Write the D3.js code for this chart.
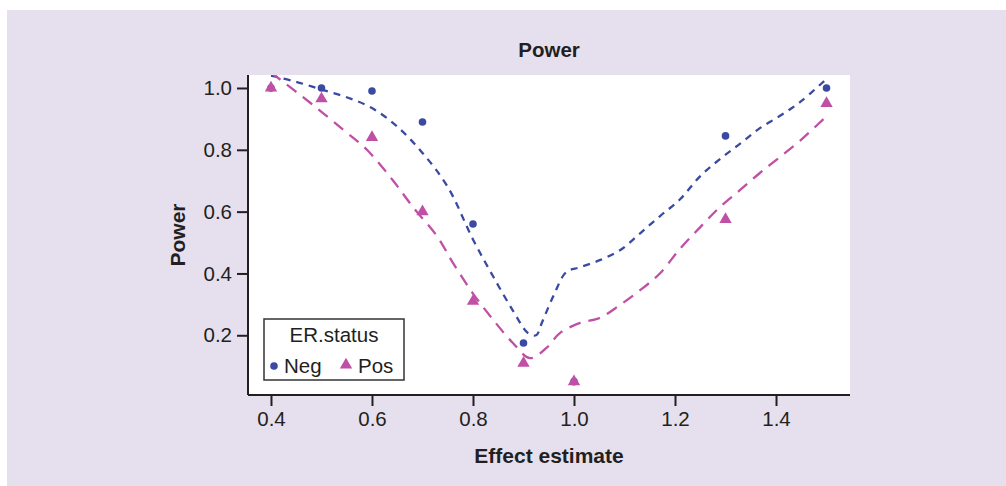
<!DOCTYPE html>
<html><head><meta charset="utf-8">
<script src="https://cdn.jsdelivr.net/npm/d3@7"></script>
<style>html,body{margin:0;padding:0;background:#fff}svg{display:block}text{font-family:"Liberation Sans",Arial,Helvetica,sans-serif;fill:#231f20}</style>
</head><body><svg id="c" width="1006" height="486"></svg>
<script>
// observed points
const effects = [0.4, 0.5, 0.6, 0.7, 0.8, 0.9, 1.0, 1.3, 1.5];
const negPower = [1.0, 1.0, 0.99, 0.89, 0.56, 0.175, 0.05, 0.845, 1.0];
const posPower = [1.0, 0.965, 0.84, 0.60, 0.31, 0.11, 0.05, 0.575, 0.95];
// smoothed curves
const negCurveX = [0.40,0.45,0.50,0.55,0.60,0.65,0.70,0.75,0.80,0.84,0.879,0.909,0.925,0.937,0.96,0.985,1.012,1.051,1.091,1.131,1.170,1.210,1.250,1.289,1.329,1.368,1.408,1.448,1.497];
const negCurveY = [1.04,1.02,0.995,0.97,0.935,0.875,0.79,0.68,0.51,0.39,0.28,0.207,0.20,0.243,0.33,0.405,0.42,0.443,0.475,0.53,0.585,0.64,0.715,0.77,0.82,0.87,0.91,0.955,1.025];
const posCurveX = [0.40,0.477,0.543,0.59,0.642,0.681,0.729,0.76,0.80,0.84,0.879,0.913,0.946,0.972,1.012,1.051,1.091,1.131,1.170,1.210,1.250,1.289,1.329,1.368,1.408,1.448,1.497];
const posCurveY = [1.05,0.953,0.865,0.80,0.70,0.615,0.52,0.435,0.335,0.25,0.175,0.126,0.16,0.207,0.24,0.256,0.298,0.346,0.40,0.48,0.55,0.615,0.67,0.725,0.777,0.83,0.904];
const xTicks = [0.4, 0.6, 0.8, 1.0, 1.2, 1.4];
const yTicks = [0.2, 0.4, 0.6, 0.8, 1.0];
const groups = ["Neg", "Pos"];
const colors = {Neg: "#3a4aa2", Pos: "#c04fa6"};

const svg = d3.select("#c");
svg.append("rect").attr("x", 7).attr("y", 10).attr("width", 999).attr("height", 476).attr("fill", "#e6e0ee");

const L = 248, R = 850, T = 75, B = 395;
const x = d3.scaleLinear().domain([0.3545, 1.5465]).range([L, R]);
const y = d3.scaleLinear().domain([0.0068, 1.042]).range([B, T]);

svg.append("rect").attr("x", L).attr("y", T).attr("width", R - L).attr("height", B - T).attr("fill", "#fff");
svg.append("clipPath").attr("id", "clip").append("rect").attr("x", L).attr("y", T).attr("width", R - L).attr("height", B - T);

const fs = "20.5px";
// axes
const xAxis = svg.append("g").attr("transform", `translate(0,${B})`)
  .call(d3.axisBottom(x).tickValues(xTicks).tickFormat(d3.format(".1f")).tickSize(11).tickSizeOuter(0).tickPadding(5));
const yAxis = svg.append("g").attr("transform", `translate(${L},0)`)
  .call(d3.axisLeft(y).tickValues(yTicks).tickFormat(d3.format(".1f")).tickSize(11).tickSizeOuter(0).tickPadding(5));
[xAxis, yAxis].forEach(a => {
  a.select(".domain").attr("stroke", "#231f20").attr("stroke-width", 2);
  a.selectAll(".tick line").attr("stroke", "#231f20").attr("stroke-width", 2);
  a.selectAll(".tick text").style("font-size", fs).attr("fill", "#231f20").style("font-family", '"Liberation Sans",Arial,sans-serif');
});
xAxis.select(".domain").attr("d", `M${L},0H${R}`);
yAxis.select(".domain").attr("d", `M0,${T}V${B}`);

// titles
svg.append("text").attr("x", (L + R) / 2).attr("y", 57).attr("text-anchor", "middle")
  .style("font-size", "20.5px").style("font-weight", "bold").text("Power");
svg.append("text").attr("x", (L + R) / 2).attr("y", 463).attr("text-anchor", "middle")
  .style("font-size", "21px").style("font-weight", "bold").text("Effect estimate");
svg.append("text").attr("transform", `translate(185,${(T + B) / 2}) rotate(-90)`).attr("text-anchor", "middle")
  .style("font-size", "21px").style("font-weight", "bold").text("Power");

// curves
const line = d3.line().x(d => x(d[0])).y(d => y(d[1])).curve(d3.curveCatmullRom);
const plot = svg.append("g").attr("clip-path", "url(#clip)");
plot.append("path").datum(negCurveX.map((v, i) => [v, negCurveY[i]]))
  .attr("d", line).attr("fill", "none").attr("stroke", colors.Neg).attr("stroke-width", 2.3).attr("stroke-dasharray", "7,6");
plot.append("path").datum(posCurveX.map((v, i) => [v, posCurveY[i]]))
  .attr("d", line).attr("fill", "none").attr("stroke", colors.Pos).attr("stroke-width", 2.3).attr("stroke-dasharray", "12,8");

// points
const tri = d3.symbol().type(d3.symbolTriangle).size(66);
plot.selectAll("circle.neg").data(effects.map((v, i) => [v, negPower[i]])).join("circle")
  .attr("cx", d => x(d[0])).attr("cy", d => y(d[1])).attr("r", 3.8).attr("fill", colors.Neg);
plot.selectAll("path.pos").data(effects.map((v, i) => [v, posPower[i]])).join("path").attr("class", "pos")
  .attr("d", tri).attr("transform", d => `translate(${x(d[0])},${y(d[1])})`).attr("fill", colors.Pos);

// legend
const lg = svg.append("g");
lg.append("rect").attr("x", 264).attr("y", 319).attr("width", 140).attr("height", 61)
  .attr("fill", "#fff").attr("stroke", "#333").attr("stroke-width", 1.5);
lg.append("text").attr("x", 334).attr("y", 342).attr("text-anchor", "middle").style("font-size", fs).text("ER.status");
lg.append("circle").attr("cx", 274).attr("cy", 366).attr("r", 3.8).attr("fill", colors.Neg);
lg.append("text").attr("x", 284).attr("y", 373).style("font-size", fs).text(groups[0]);
lg.append("path").attr("d", tri).attr("transform", "translate(346,365)").attr("fill", colors.Pos);
lg.append("text").attr("x", 358).attr("y", 373).style("font-size", fs).text(groups[1]);
</script></body></html>
